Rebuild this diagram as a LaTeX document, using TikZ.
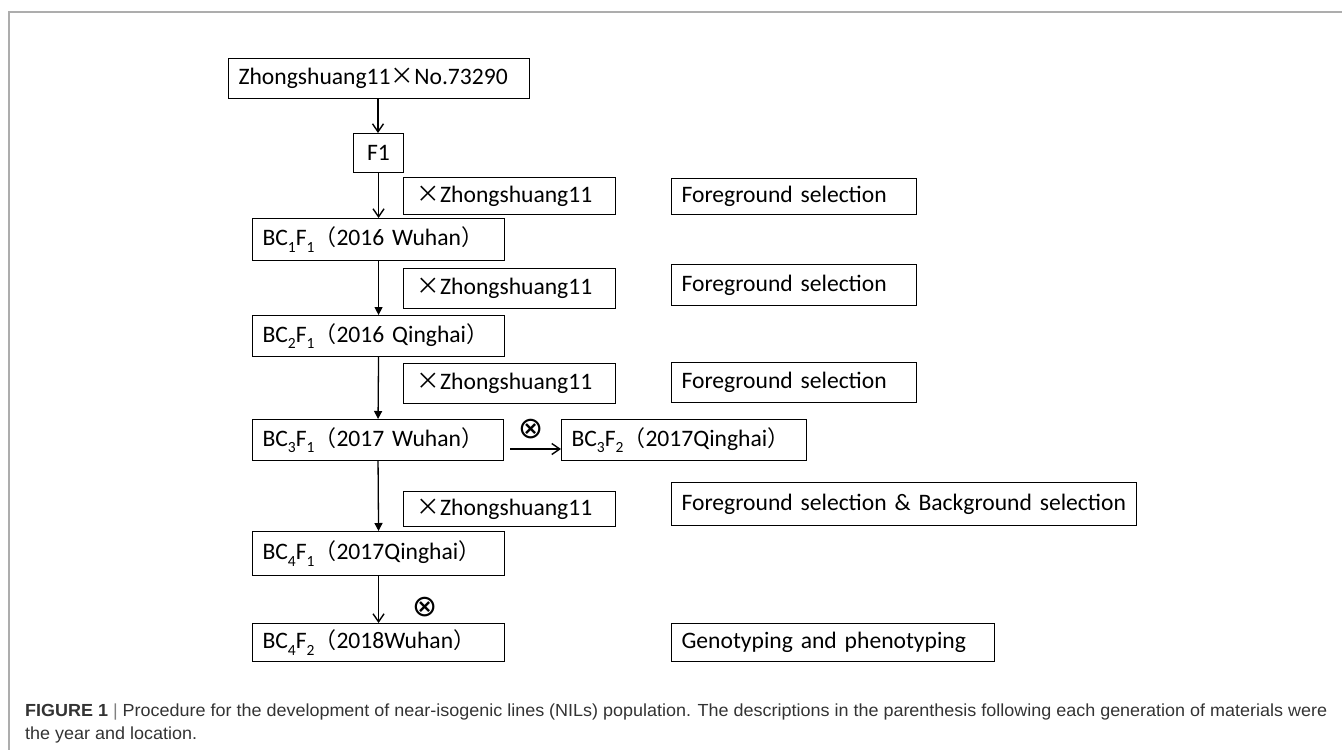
\documentclass[tikz,border=0pt]{standalone}
\usepackage{fontspec}
\usepackage{graphicx}
\usetikzlibrary{arrows.meta}
\setmainfont{Carlito}
\newfontfamily\cjk{Noto Sans CJK SC}
\newfontfamily\dvs{DejaVu Sans}
\newfontfamily\capfont{Liberation Sans}
\newcommand\zlp{{\cjk\fontsize{22}{24}\selectfont （}}
\newcommand\zrp{{\cjk\fontsize{22}{24}\selectfont ）}}
\newcommand\zx{{\cjk ×}}
\newcommand\zotimes{{\dvs ⊗}}
\newcommand\zsub[1]{\raisebox{-0.28em}{\fontsize{15.5}{16}\selectfont #1}}
\definecolor{framegray}{HTML}{ADADAD}
\definecolor{captext}{HTML}{333333}
\newsavebox\capbox
\newlength\capwd
\begin{document}
\sbox\capbox{\capfont\fontsize{17.5}{20}\selectfont\color{captext}\textbf{FIGURE 1} {\color{gray}|} Procedure for the development of near-isogenic lines (NILs) population. The descriptions in the parenthesis following each generation of materials were}%
\setlength\capwd{\wd\capbox}%
\pgfmathsetmacro\capscale{1302/\capwd}%
\begin{tikzpicture}[x=1pt,y=-1pt,
  box/.style={draw=black, line width=1.1pt, inner xsep=10pt, inner ysep=0pt,
    align=left, anchor=north west, font=\fontsize{23.6}{26}\selectfont},
  xbox/.style={box, inner xsep=13pt},
  conn/.style={line width=1.4pt, -{Straight Barb[length=8pt,width=11pt,line width=1.4pt]}},
  connf/.style={line width=1.3pt, -{Triangle[length=8pt,width=8pt]}},
  sym/.style={inner sep=0pt, font=\fontsize{30}{32}\selectfont}]
\useasboundingbox (0,0) rectangle (1342,750);
\draw[framegray, line width=1.5pt] (9,750) -- (9,12) -- (1342,12);

% left column
\node[box, minimum width=301pt, minimum height=40pt, text width=281pt] (top) at (228,58) {\mbox{Zhongshuang11\zx No.73290}};
\node[box, minimum width=50pt, minimum height=39pt, text width=30pt, align=center, inner xsep=10pt] (f1) at (353,133) {F1};
\node[box, minimum width=252pt, minimum height=42pt, text width=232pt] (bc1) at (252,218) {\mbox{BC\zsub{1}F\zsub{1}\zlp 2016 Wuhan\zrp}};
\node[box, minimum width=252pt, minimum height=41pt, text width=232pt] (bc2) at (252,315) {\mbox{BC\zsub{2}F\zsub{1}\zlp 2016 Qinghai\zrp}};
\node[box, minimum width=251pt, minimum height=41pt, text width=231pt] (bc3) at (252,419) {\mbox{BC\zsub{3}F\zsub{1}\zlp 2017 Wuhan\zrp}};
\node[box, minimum width=245pt, minimum height=41pt, text width=225pt] (bc3f2) at (561,419) {\mbox{BC\zsub{3}F\zsub{2}\zlp 2017Qinghai\zrp}};
\node[box, minimum width=252pt, minimum height=44pt, text width=232pt] (bc4) at (252,531) {\mbox{BC\zsub{4}F\zsub{1}\zlp 2017Qinghai\zrp}};
\node[box, minimum width=252pt, minimum height=38pt, text width=232pt] (bc4f2) at (252,623) {\mbox{BC\zsub{4}F\zsub{2}\zlp 2018Wuhan\zrp}};

% cross boxes
\node[xbox, minimum width=212pt, minimum height=37pt, text width=186pt] (x1) at (403,177) {\mbox{\zx Zhongshuang11}};
\node[xbox, minimum width=212pt, minimum height=40pt, text width=186pt] (x2) at (403,268) {\mbox{\zx Zhongshuang11}};
\node[xbox, minimum width=212pt, minimum height=40pt, text width=186pt] (x3) at (403,363) {\mbox{\zx Zhongshuang11}};
\node[xbox, minimum width=212pt, minimum height=35pt, text width=186pt] (x4) at (403,491) {\mbox{\zx Zhongshuang11}};

% selection boxes
\node[box, minimum width=245pt, minimum height=36pt, text width=225pt] (s1) at (671,178) {\mbox{Foreground selection}};
\node[box, minimum width=245pt, minimum height=41pt, text width=225pt] (s2) at (671,264) {\mbox{Foreground selection}};
\node[box, minimum width=245pt, minimum height=40pt, text width=225pt] (s3) at (671,362) {\mbox{Foreground selection}};
\node[box, minimum width=465pt, minimum height=43pt, text width=445pt] (s4) at (671,482) {\mbox{Foreground selection \& Background selection}};
\node[box, minimum width=323pt, minimum height=38pt, text width=303pt] (s5) at (671,623) {\mbox{Genotyping and phenotyping}};

% connectors
\draw[conn] (378,98) coordinate (a0) -- (a0 |- f1.north);
\draw[conn] (f1.south) -- (bc1.north);
\draw[connf] (bc1.south) -- (bc2.north);
\draw[connf] (bc2.south) -- (bc3.north);
\draw[connf] (bc3.south) -- (bc4.north);
\draw[conn] (bc4.south) -- (bc4f2.north);
\coordinate (hy) at (0,449);
\draw[conn] ([xshift=6pt]bc3.east |- hy) -- (bc3f2.west |- hy);
\node[sym] (o1) at (531,429) {\zotimes};
\node[sym] (o2) at (425,607) {\zotimes};

% caption
\node[anchor=base west, inner sep=0pt] (cap1) at (25,716.5) {\scalebox{\capscale}[1]{\usebox\capbox}};
\node[anchor=base west, inner sep=0pt] (cap2) at (25,739) {\scalebox{\capscale}[1]{\capfont\fontsize{17.5}{20}\selectfont\color{captext}the year and location.}};
\end{tikzpicture}
\end{document}
